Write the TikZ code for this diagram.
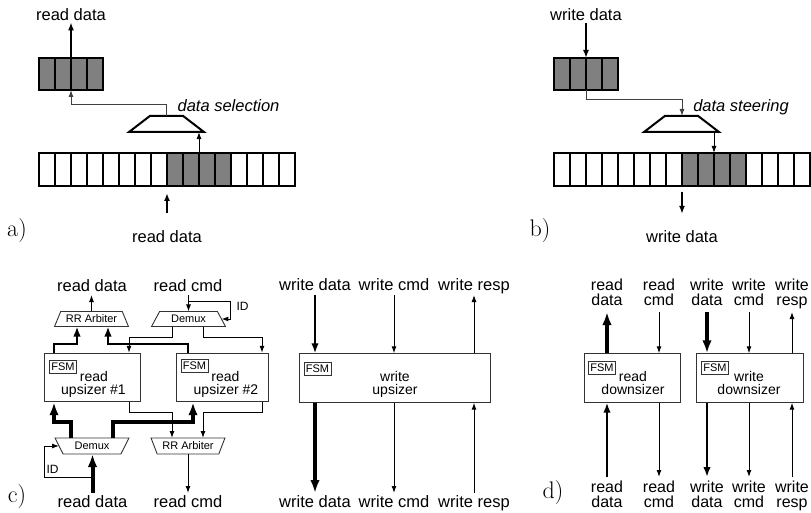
\documentclass[tikz,border=0pt]{standalone}
\usepackage{fontspec}
\newfontfamily\arial{Liberation Sans}
\usetikzlibrary{arrows.meta,shapes.geometric}

\tikzset{
  txtlbl/.style={font=\arial\fontsize{16.5}{15}\selectfont, inner sep=0pt, anchor=base},
  twolbl/.style={font=\arial\fontsize{16}{15}\selectfont, inner sep=0pt, anchor=base},
  itlbl/.style={font=\arial\itshape\fontsize{16.5}{16}\selectfont, inner sep=0pt, anchor=base},
  tagtxt/.style={font=\fontsize{24}{24}\selectfont, inner sep=0pt},
  boxtxt/.style={font=\arial\fontsize{14}{14}\selectfont, inner sep=0pt, anchor=base},
  idlbl/.style={font=\arial\fontsize{12}{12}\selectfont, inner sep=0pt},
  fsmbox/.style={draw=black!80, line width=0.8pt, font=\arial\fontsize{11}{11}\selectfont,
    minimum width=27pt, minimum height=13pt, inner sep=0pt},
  blockbox/.style={draw=black!80, line width=0.9pt, minimum height=48.5pt, inner sep=0pt},
  cell/.style={draw, line width=2pt, minimum width=16pt, minimum height=33pt, inner sep=0pt, outer sep=0pt},
  gcell/.style={cell, fill=gray},
  muxa/.style={trapezium, draw, line width=2pt, trapezium stretches=true,
    trapezium left angle=58, trapezium right angle=58,
    minimum width=75pt, minimum height=16pt, inner sep=2pt, outer sep=0pt},
  arbup/.style={trapezium, draw=black!80, line width=0.9pt, trapezium stretches=true,
    trapezium left angle=60, trapezium right angle=60,
    minimum width=74pt, minimum height=15pt, inner sep=0.5pt, outer sep=0pt,
    font=\arial\fontsize{11}{11}\selectfont},
  arbdown/.style={arbup, trapezium left angle=120, trapezium right angle=120, minimum height=16pt},
  arr/.style={line width=1pt, -{Latex[length=7pt,width=5pt]}},
  arrW/.style={line width=1.7pt, -{Latex[length=8pt,width=6pt]}},
  arrM/.style={line width=2pt, -{Latex[length=10pt,width=7.5pt]}},
  arrT/.style={line width=4pt, -{Latex[length=13pt,width=9.5pt]}},
}

\begin{document}
\begin{tikzpicture}[x=1pt,y=-1pt]
\useasboundingbox (0,0) rectangle (811,513);

% ---------- (a) data selection ----------
\foreach \i in {1,...,8,13,14,15,16} \node[cell] (wa\i) at (31+16*\i,169.5) {};
\foreach \i in {9,...,12} \node[gcell] (wa\i) at (31+16*\i,169.5) {};
\foreach \i in {1,...,4} \node[gcell, minimum height=32pt] (na\i) at (31+16*\i,74) {};
\node[muxa] (selA) at (166.5,124) {};
\node[itlbl] (selT) at (228.5,112) {data selection};
\node[txtlbl] (rdA) at (71,21) {read data};
\node[txtlbl] (rdbA) at (167,243) {read data};
\node[tagtxt] (tagA) at (17,231) {a)};

\draw[arrW, shorten >=1pt] (na2.north east) -- (rdA.south);
\draw[arr, draw=black!75] (selA.north) -- ++(0,-11) -| (na2.south east);
\draw[arr] (wa10.north east |- selA.south) ++(0,21) -- (wa10.north east |- selA.south);
\draw[arrW] ([yshift=18pt]rdbA.north) -- ([yshift=-7pt]wa8.south east);

% ---------- (b) data steering ----------
\foreach \i in {1,...,8,13,14,15,16} \node[cell] (wb\i) at (546+16*\i,169.5) {};
\foreach \i in {9,...,12} \node[gcell] (wb\i) at (546+16*\i,169.5) {};
\foreach \i in {1,...,4} \node[gcell, minimum height=32pt] (nb\i) at (546+16*\i,74) {};
\node[muxa] (steerB) at (681.5,124) {};
\node[itlbl] (steerT) at (741,112) {data steering};
\node[txtlbl] (wdA) at (586,21) {write data};
\node[txtlbl] (wdbA) at (682,243) {write data};
\node[tagtxt] (tagB) at (540,231) {b)};

\draw[arrW, shorten <=2pt] (wdA.south) -- (nb2.north east);
\draw[arr, draw=black!75] (nb2.south east) -- ++(0,10) -| (wb8.north east |- steerB.north);
\draw[arr] (wb10.north east |- steerB.south) -- (wb10.north east);
\draw[arrW] ([yshift=-6pt]wb8.south east) -- ([yshift=17pt]wdbA.north);

% ---------- (c) read upsizers and write upsizer ----------
\coordinate (ctop) at (0,295);
\coordinate (cbot) at (0,493);
\coordinate (loopT) at (230,301);
\coordinate (loopB) at (44,477);

\node[txtlbl] (rdT) at (92,291) {read data};
\node[txtlbl] (rcT) at (188,291) {read cmd};
\node[txtlbl] (rdB) at (92.5,507) {read data};
\node[txtlbl] (rcB) at (188,507) {read cmd};
\node[arbup] (arbT) at (91.5,319) {RR Arbiter};
\node[arbup] (dmxT) at (188.5,319) {Demux};
\node[blockbox, minimum width=96pt] (up1) at (92,377.5) {};
\node[blockbox, minimum width=92pt] (up2) at (222,377.5) {};
\node[fsmbox] (fsm1) at (63,366.5) {FSM};
\node[fsmbox] (fsm2) at (194.5,366) {FSM};
\node[boxtxt] (up1a) at (94,381) {read};
\node[boxtxt] (up1b) at (93.5,394) {upsizer \#1};
\node[boxtxt] (up2a) at (225.5,381) {read};
\node[boxtxt] (up2b) at (226,394) {upsizer \#2};
\node[arbdown] (dmxB) at (92,446) {Demux};
\node[arbdown] (arbB) at (188,446) {RR Arbiter};
\node[idlbl] (idTop) at (242.5,306) {ID};
\node[idlbl] (idBot) at (52.5,469) {ID};
\node[tagtxt] (tagC) at (17,497) {c)};

\draw[arr] (arbT.north) -- (arbT.north |- ctop);
\draw[arrM] (up1.north -| 54,0) -- ++(0,-9) -| (arbT.south -| 77,0);
\draw[arrM] (up2.north -| 188,0) -- ++(0,-9) -| (arbT.south -| 108,0);
\draw[arr] (dmxT.north |- ctop) -- (dmxT.north);
\draw[arr] (dmxT.north |- loopT) -| (dmxT.east -| loopT) -- (dmxT.east);
\draw[arr] (dmxT.south -| 172,0) -- ++(0,11) -| (up1.north -| 129,0);
\draw[arr] (dmxT.south -| 203,0) -- ++(0,11) -| (up2.north -| 262,0);
\draw[arrT] (dmxB.north -| 71,0) -- ++(0,-16) -| (up1.south -| 54,0);
\draw[arrT] (dmxB.north -| 113,0) -- ++(0,-16) -| (up2.south -| 193,0);
\draw[arr] (up1.south -| 129,0) -- ++(0,10) -| (arbB.north -| 172,0);
\draw[arr] (up2.south -| 262,0) -- ++(0,10) -| (arbB.north -| 203,0);
\draw[arrT] (rdB.north |- cbot) -- (rdB.north |- dmxB.south);
\draw[arr] (rdB.north |- loopB) -| (dmxB.west -| loopB) -- (dmxB.west);
\draw[arr] (arbB.south) -- (arbB.south |- cbot);

\node[blockbox, minimum width=191pt] (wup) at (394.5,378) {};
\node[fsmbox] (fsm3) at (317.5,368.5) {FSM};
\node[boxtxt] (wupa) at (395,381) {write};
\node[boxtxt] (wupb) at (395,394) {upsizer};
\node[txtlbl] (wdT) at (315,290) {write data};
\node[txtlbl] (wcT) at (394,290) {write cmd};
\node[txtlbl] (wrT) at (474,290) {write resp};
\node[txtlbl] (wdB) at (315,507) {write data};
\node[txtlbl] (wcB) at (394,507) {write cmd};
\node[txtlbl] (wrB) at (474,507) {write resp};

\draw[arrM] (wdT.south |- ctop) -- (wdT.south |- wup.north);
\draw[arr] (wcT.south |- ctop) -- (wcT.south |- wup.north);
\draw[arr] (wrT.south |- wup.north) -- (wrT.south |- ctop);
\draw[arrT] (wdB.north |- wup.south) -- (wdB.north |- cbot);
\draw[arr] (wcB.north |- wup.south) -- (wcB.north |- cbot);
\draw[arr] (wrB.north |- cbot) -- (wrB.north |- wup.south);

% ---------- (d) read and write downsizers ----------
\coordinate (dtop) at (0,312);
\coordinate (dbot) at (0,477);

\node[blockbox, minimum width=96pt] (rds) at (632,378) {};
\node[blockbox, minimum width=107pt] (wds) at (749.5,378) {};
\node[fsmbox] (fsm4) at (602,367.5) {FSM};
\node[fsmbox] (fsm5) at (715,367.5) {FSM};
\node[boxtxt] (rdsa) at (633,381) {read};
\node[boxtxt] (rdsb) at (633,394) {downsizer};
\node[boxtxt] (wdsa) at (749,381) {write};
\node[boxtxt] (wdsb) at (749,394) {downsizer};

\node[twolbl] (rdDt) at (607,290) {read};
\node[twolbl] (rdDt2) at (607,305) {data};
\node[twolbl] (rcDt) at (659,290) {read};
\node[twolbl] (rcDt2) at (659,305) {cmd};
\node[twolbl] (wdDt) at (707,290) {write};
\node[twolbl] (wdDt2) at (707,305) {data};
\node[twolbl] (wcDt) at (749,290) {write};
\node[twolbl] (wcDt2) at (749,305) {cmd};
\node[twolbl] (wrDt) at (792,290) {write};
\node[twolbl] (wrDt2) at (792,305) {resp};
\node[twolbl] (rdDb) at (607,492) {read};
\node[twolbl] (rdDb2) at (607,507) {data};
\node[twolbl] (rcDb) at (659,492) {read};
\node[twolbl] (rcDb2) at (659,507) {cmd};
\node[twolbl] (wdDb) at (707,492) {write};
\node[twolbl] (wdDb2) at (707,507) {data};
\node[twolbl] (wcDb) at (749,492) {write};
\node[twolbl] (wcDb2) at (749,507) {cmd};
\node[twolbl] (wrDb) at (792,492) {write};
\node[twolbl] (wrDb2) at (792,507) {resp};
\node[tagtxt] (tagD) at (553,493) {d)};

\draw[arrT] (rdDt2.south |- rds.north) -- (rdDt2.south |- dtop);
\draw[arr] (rcDt2.south |- dtop) -- (rcDt2.south |- rds.north);
\draw[arrT] (wdDt2.south |- dtop) -- (wdDt2.south |- wds.north);
\draw[arr] (wcDt2.south |- dtop) -- (wcDt2.south |- wds.north);
\draw[arr] (wrDt2.south |- wds.north) -- (wrDt2.south |- dtop);
\draw[arrM] (rdDb.north |- dbot) -- (rdDb.north |- rds.south);
\draw[arr] (rcDb.north |- rds.south) -- (rcDb.north |- dbot);
\draw[arrM] (wdDb.north |- wds.south) -- (wdDb.north |- dbot);
\draw[arr] (wcDb.north |- wds.south) -- (wcDb.north |- dbot);
\draw[arr] (wrDb.north |- dbot) -- (wrDb.north |- wds.south);
\end{tikzpicture}
\end{document}
